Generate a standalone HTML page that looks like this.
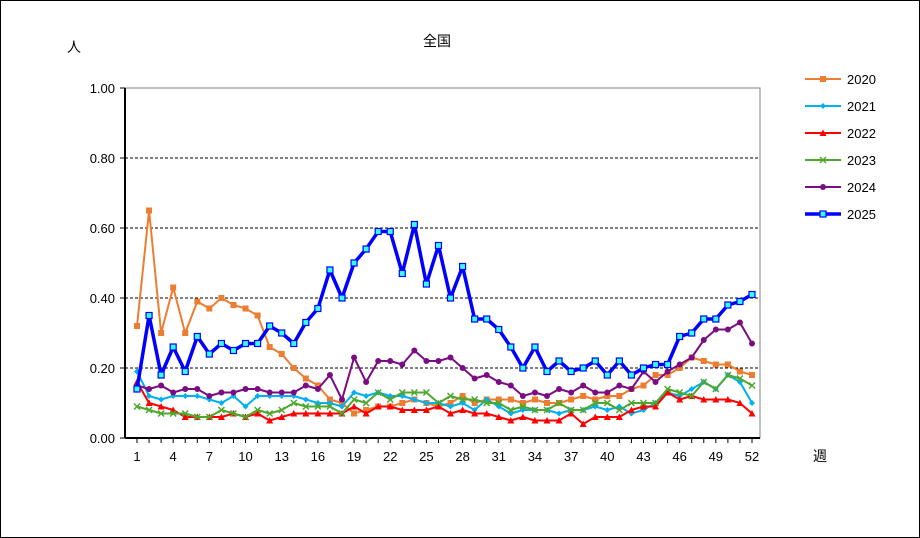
<!DOCTYPE html>
<html><head><meta charset="utf-8"><style>
body{margin:0;background:#fff}
svg{display:block;font-family:"Liberation Sans","Noto Sans CJK JP",sans-serif}
</style></head><body>
<svg id="s" width="920" height="538" xmlns="http://www.w3.org/2000/svg">
<rect x="0.5" y="0.5" width="919" height="537" fill="#fff" stroke="#000"/>
<text x="437" y="46" font-size="14" text-anchor="middle">全国</text>
<text x="74" y="52" font-size="14" text-anchor="middle">人</text>
<text x="820" y="461" font-size="14" text-anchor="middle">週</text>
<g id="g"></g>
</svg>
<script>
const g=document.getElementById('g');let h='';
const L=125,R=760,T=88,B=438;
const X=i=>137+(i)*(615/51), Y=v=>B-v*350;
h+=`<rect x="${L}" y="${T}" width="${R-L}" height="${B-T}" fill="#fff" stroke="#808080"/>`;
for(let k=1;k<=4;k++){const y=Y(k*0.2);h+=`<line x1="${L}" x2="${R}" y1="${y}" y2="${y}" stroke="#000" stroke-dasharray="3,2" stroke-width="1"/>`;}
h+=`<line x1="${L}" x2="${L}" y1="${T}" y2="${B}" stroke="#000" stroke-width="2"/>`;
h+=`<line x1="${L}" x2="${R}" y1="${B}" y2="${B}" stroke="#000" stroke-width="2"/>`;
for(let k=0;k<=5;k++){h+=`<text x="${L-10}" y="${Y(k*0.2)+5}" font-size="13" text-anchor="end">${(k*0.2).toFixed(2)}</text>`;h+=`<line x1="${L-5}" x2="${L}" y1="${Y(k*0.2)}" y2="${Y(k*0.2)}" stroke="#000"/>`;}
for(let i=0;i<52;i++){h+=`<line x1="${X(i)}" x2="${X(i)}" y1="${B}" y2="${B+5}" stroke="#000"/>`;}
for(let w=1;w<=52;w+=3){h+=`<text x="${X(w-1)}" y="${B+23}" font-size="13" text-anchor="middle">${w}</text>`;}
const S=[
["2020","#ED7D31",2,"sq",[0.32,0.65,0.30,0.43,0.30,0.39,0.37,0.40,0.38,0.37,0.35,0.26,0.24,0.20,0.17,0.15,0.11,0.10,0.07,0.08,0.09,0.09,0.10,0.11,0.10,0.09,0.10,0.12,0.10,0.11,0.11,0.11,0.10,0.11,0.10,0.10,0.11,0.12,0.11,0.12,0.12,0.14,0.15,0.18,0.18,0.20,0.23,0.22,0.21,0.21,0.19,0.18]],
["2021","#00B0F0",2,"di",[0.19,0.12,0.11,0.12,0.12,0.12,0.11,0.10,0.12,0.09,0.12,0.12,0.12,0.12,0.11,0.10,0.10,0.09,0.13,0.12,0.13,0.12,0.12,0.11,0.10,0.10,0.09,0.10,0.08,0.11,0.09,0.07,0.08,0.08,0.08,0.07,0.08,0.08,0.09,0.08,0.09,0.07,0.08,0.10,0.13,0.12,0.14,0.16,0.14,0.18,0.16,0.10]],
["2022","#FF0000",2,"tr",[0.16,0.10,0.09,0.08,0.06,0.06,0.06,0.06,0.07,0.06,0.07,0.05,0.06,0.07,0.07,0.07,0.07,0.07,0.09,0.07,0.09,0.09,0.08,0.08,0.08,0.09,0.07,0.08,0.07,0.07,0.06,0.05,0.06,0.05,0.05,0.05,0.07,0.04,0.06,0.06,0.06,0.08,0.09,0.09,0.13,0.11,0.12,0.11,0.11,0.11,0.10,0.07]],
["2023","#4EA72E",2,"x",[0.09,0.08,0.07,0.07,0.07,0.06,0.06,0.08,0.07,0.06,0.08,0.07,0.08,0.10,0.09,0.09,0.09,0.07,0.11,0.10,0.13,0.11,0.13,0.13,0.13,0.10,0.12,0.11,0.11,0.10,0.10,0.08,0.09,0.08,0.08,0.10,0.08,0.08,0.10,0.10,0.08,0.10,0.10,0.10,0.14,0.13,0.12,0.16,0.14,0.18,0.17,0.15]],
["2024","#7B0C82",2,"ci",[0.15,0.14,0.15,0.13,0.14,0.14,0.12,0.13,0.13,0.14,0.14,0.13,0.13,0.13,0.15,0.14,0.18,0.11,0.23,0.16,0.22,0.22,0.21,0.25,0.22,0.22,0.23,0.20,0.17,0.18,0.16,0.15,0.12,0.13,0.12,0.14,0.13,0.15,0.13,0.13,0.15,0.14,0.19,0.16,0.19,0.21,0.23,0.28,0.31,0.31,0.33,0.27]],
["2025","#0000FF",3.5,"bs",[0.14,0.35,0.18,0.26,0.19,0.29,0.24,0.27,0.25,0.27,0.27,0.32,0.30,0.27,0.33,0.37,0.48,0.40,0.50,0.54,0.59,0.59,0.47,0.61,0.44,0.55,0.40,0.49,0.34,0.34,0.31,0.26,0.20,0.26,0.19,0.22,0.19,0.20,0.22,0.18,0.22,0.18,0.20,0.21,0.21,0.29,0.30,0.34,0.34,0.38,0.39,0.41]]];
function mk(t,c,x,y){
 if(t=="sq")return `<rect x="${x-3}" y="${y-3}" width="6" height="6" fill="${c}"/>`;
 if(t=="di")return `<path d="M${x} ${y-3}L${x+3} ${y}L${x} ${y+3}L${x-3} ${y}Z" fill="${c}"/>`;
 if(t=="tr")return `<path d="M${x} ${y-3.5}L${x+3.5} ${y+3}L${x-3.5} ${y+3}Z" fill="${c}"/>`;
 if(t=="x")return `<path d="M${x-3} ${y-3}L${x+3} ${y+3}M${x+3} ${y-3}L${x-3} ${y+3}" stroke="${c}" stroke-width="1.5"/>`;
 if(t=="ci")return `<circle cx="${x}" cy="${y}" r="3" fill="${c}"/>`;
 return `<rect x="${x-3}" y="${y-3}" width="6" height="6" fill="#33FFFF" stroke="#0000FF" stroke-width="1.2"/>`;
}
S.forEach((s,k)=>{
 const p=s[4].map((v,i)=>X(i).toFixed(1)+','+Y(v).toFixed(1)).join(' ');
 h+=`<polyline points="${p}" fill="none" stroke="${s[1]}" stroke-width="${s[2]}" stroke-linejoin="round"/>`;
 s[4].forEach((v,i)=>h+=mk(s[3],s[1],X(i),Y(v)));
 const ly=79+k*27;
 h+=`<line x1="805" x2="841" y1="${ly}" y2="${ly}" stroke="${s[1]}" stroke-width="${s[2]}"/>`+mk(s[3],s[1],823,ly);
 h+=`<text x="847" y="${ly+5}" font-size="13">${s[0]}</text>`;
});
g.innerHTML=h;
</script>
</body></html>
